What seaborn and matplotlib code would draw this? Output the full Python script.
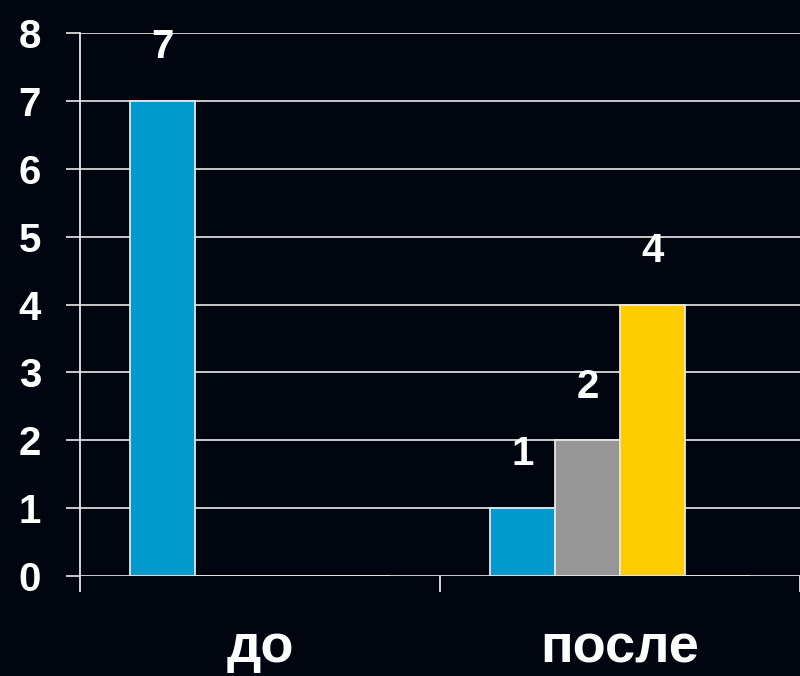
import matplotlib
matplotlib.use("Agg")
import matplotlib.pyplot as plt
import seaborn as sns
import pandas as pd

# Data
categories = ["до", "после"]
series_names = ["A", "B", "C", "D"]
series_a = [7, 1]
series_b = [0, 2]
series_c = [0, 4]
series_d = [0, 0]
y_ticks = [0, 1, 2, 3, 4, 5, 6, 7, 8]

bg = "#00050f"
colors = ["#009acd", "#969696", "#ffcc00", "#444444"]

rows = []
for name, vals in zip(series_names, [series_a, series_b, series_c, series_d]):
    for cat, v in zip(categories, vals):
        rows.append({"cat": cat, "series": name, "value": v})
df = pd.DataFrame(rows)

sns.set_theme(style="white")
plt.rcParams["font.family"] = ["Liberation Sans", "DejaVu Sans"]

fig = plt.figure(figsize=(8.0, 6.76), dpi=100, facecolor=bg)
ax = fig.add_axes([0.1, 0.148, 0.9, 0.803])
ax.set_facecolor(bg)

sns.barplot(data=df, x="cat", y="value", hue="series", order=categories,
            hue_order=series_names, palette=colors, saturation=1, width=0.72,
            edgecolor="#e6e6e6", linewidth=1.3, legend=False, ax=ax)

# value labels above non-zero bars
for container in ax.containers:
    labels = [f"{int(b.get_height())}" if b.get_height() > 0 else "" for b in container]
    ax.bar_label(container, labels=labels, padding=25, color="white",
                 fontsize=29, fontweight="bold")

ax.set_xlim(-0.5, 1.5)
ax.set_ylim(0, 8)
ax.set_yticks(y_ticks)
ax.set_yticklabels([str(t) for t in y_ticks])
ax.yaxis.grid(True, color="#d8d8d8", linewidth=1.3)
ax.set_axisbelow(True)
ax.set_xlabel("")
ax.set_ylabel("")

for side in ["top", "right", "bottom"]:
    ax.spines[side].set_visible(False)
ax.spines["left"].set_color("#e6e6e6")
ax.spines["left"].set_linewidth(1.3)

ax.tick_params(axis="y", which="major", direction="out", length=10, width=1.3,
               color="#d8d8d8", pad=18, labelsize=29, labelcolor="white", left=True)
for lab in ax.get_yticklabels():
    lab.set_fontweight("bold")

# category ticks at group boundaries, labels at group centres
ax.set_xticks([-0.5, 0.5, 1.5], minor=True)
ax.tick_params(axis="x", which="minor", direction="out", length=11.5, width=1.3,
               color="#e6e6e6", bottom=True)
ax.tick_params(axis="x", which="major", length=0, pad=34, labelsize=39,
               labelcolor="white")
for lab in ax.get_xticklabels():
    lab.set_fontweight("bold")

fig.savefig("out.png", dpi=100, facecolor=bg)
